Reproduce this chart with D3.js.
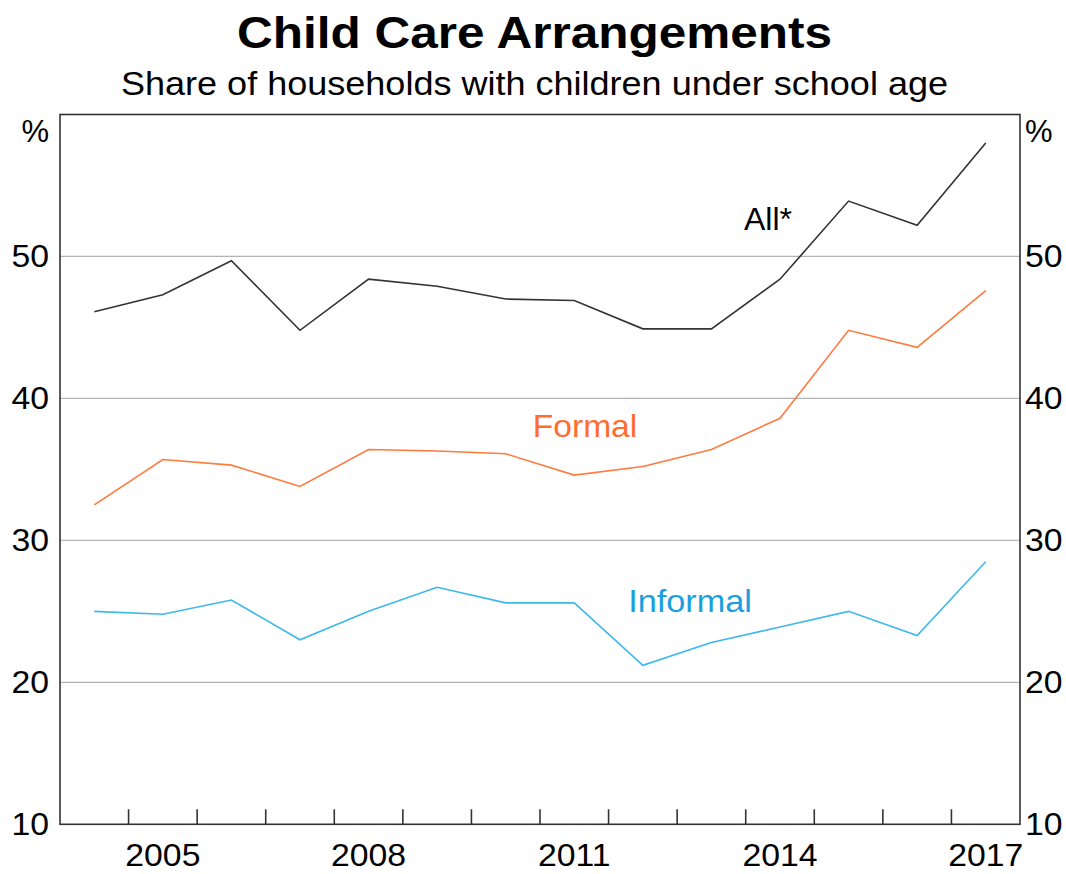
<!DOCTYPE html>
<html><head><meta charset="utf-8">
<script src="https://cdn.jsdelivr.net/npm/d3@7"></script>
<style>body{margin:0;background:#fff}svg{display:block}text{font-family:"Liberation Sans",Arial,sans-serif}</style>
</head><body><svg id="c" width="1066" height="874"></svg>
<script>
const years = [2004,2005,2006,2007,2008,2009,2010,2011,2012,2013,2014,2015,2016,2017];
const allSeries = [46.1,47.3,49.7,44.8,48.4,47.9,47.0,46.9,44.9,44.9,48.4,53.9,52.2,58.0];
const formal = [32.5,35.7,35.3,33.8,36.4,36.3,36.1,34.6,35.2,36.4,38.6,44.8,43.6,47.6];
const informal = [25.0,24.8,25.8,23.0,25.0,26.7,25.6,25.6,21.2,22.8,23.9,25.0,23.3,28.5];
const yTicks = [10,20,30,40,50];
const xLabelYears = [2005,2008,2011,2014,2017];

const svg = d3.select("#c");
const L=60,R=1020,T=114.5,B=824.3;
const x = d3.scaleBand().domain(years).range([L,R]);
const y = d3.scaleLinear().domain([10,60]).range([B,T]);

function txt(px, py, s, size, anchor, sx, fill, weight){
  return svg.append("text")
    .attr("transform", `translate(${px},${py}) scale(${sx},1)`)
    .attr("text-anchor", anchor).attr("font-size", size)
    .attr("font-weight", weight||"normal").attr("fill", fill||"#000").text(s);
}

// gridlines
svg.append("g").selectAll("line").data(yTicks.filter(d=>d>10)).join("line")
  .attr("x1",L).attr("x2",R).attr("y1",d=>y(d)).attr("y2",d=>y(d))
  .attr("stroke","#b3b3b3").attr("stroke-width",1.2);

// lines
const line = d3.line().x((d,i)=>x(years[i])+x.bandwidth()/2).y(d=>y(d));
[[allSeries,"#333333"],[formal,"#ff7a3d"],[informal,"#3db8ea"]].forEach(([s,c])=>{
  svg.append("path").datum(s).attr("d",line).attr("fill","none").attr("stroke",c).attr("stroke-width",1.6);
});

// frame
svg.append("rect").attr("x",L).attr("y",T).attr("width",R-L).attr("height",B-T)
  .attr("fill","none").attr("stroke","#333").attr("stroke-width",1.6);

// x ticks at band boundaries, pointing inward
svg.append("g").selectAll("line").data(years.slice(1)).join("line")
  .attr("x1",d=>x(d)).attr("x2",d=>x(d)).attr("y1",B).attr("y2",B-15)
  .attr("stroke","#333").attr("stroke-width",1.6);

// x labels
xLabelYears.forEach(d=>txt(x(d)+x.bandwidth()/2, 866, d, 31, "middle", 1.09));

// y labels
yTicks.forEach(d=>{
  txt(L-11, y(d)+11, d, 31, "end", 1.09);
  txt(R+5, y(d)+11, d, 31, "start", 1.09);
});
txt(L-11, 142, "%", 31, "end", 1.0);
txt(R+5, 142, "%", 31, "start", 1.0);

// titles
svg.append("text").attr("x",534.5).attr("y",48).attr("text-anchor","middle")
  .attr("font-size",45).attr("font-weight","bold")
  .attr("textLength",595).attr("lengthAdjust","spacingAndGlyphs").text("Child Care Arrangements");
svg.append("text").attr("x",534.5).attr("y",95).attr("text-anchor","middle")
  .attr("font-size",33)
  .attr("textLength",827).attr("lengthAdjust","spacingAndGlyphs").text("Share of households with children under school age");

// series labels
txt(768, 230, "All*", 32, "middle", 1.0, "#000");
txt(585, 437, "Formal", 32, "middle", 1.05, "#ff6d2e");
txt(690, 612, "Informal", 32, "middle", 1.07, "#1aa0de");
</script></body></html>
